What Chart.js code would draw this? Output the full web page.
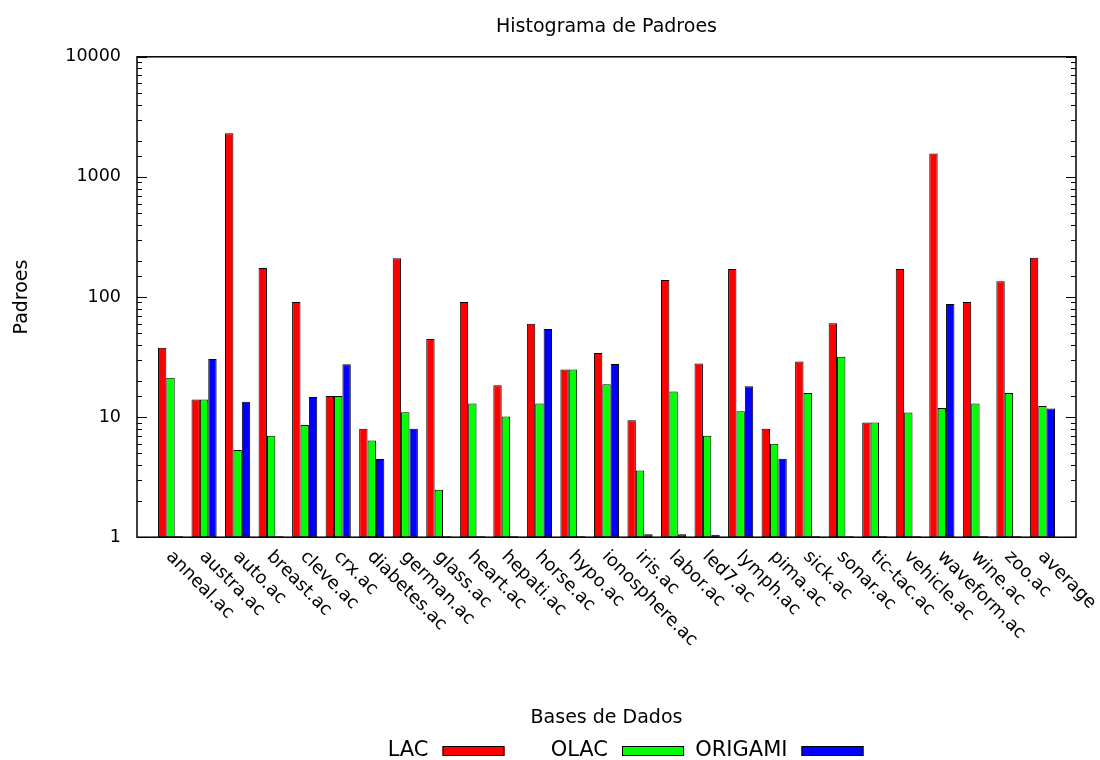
<!DOCTYPE html>
<html>
<head>
<meta charset="utf-8">
<script src="https://cdn.jsdelivr.net/npm/chart.js@4.4.1/dist/chart.umd.min.js"></script>
<style>
  html, body { margin: 0; padding: 0; background: #fff; }
  #c { display: block; }
</style>
</head>
<body>
<canvas id="c" width="1100" height="760"></canvas>
<script>
// ---- data ----
const categories = ['anneal.ac','austra.ac','auto.ac','breast.ac','cleve.ac','crx.ac','diabetes.ac','german.ac','glass.ac','heart.ac','hepati.ac','horse.ac','hypo.ac','ionosphere.ac','iris.ac','labor.ac','led7.ac','lymph.ac','pima.ac','sick.ac','sonar.ac','tic-tac.ac','vehicle.ac','waveform.ac','wine.ac','zoo.ac','average'];
const lac     = [37.8, 14.0, 2313, 174.5, 90.8, 15.0, 8.0, 210, 44.7, 90.8, 18.4, 59.9, 24.9, 34.1, 9.4, 138.6, 28.0, 171, 8.0, 29.1, 60.4, 9.0, 171, 1564, 90.8, 135, 212.6];
const olac    = [21.3, 14.0, 5.31, 6.98, 8.58, 15.0, 6.4, 11.0, 2.48, 13.0, 10.1, 13.0, 24.9, 18.8, 3.6, 16.3, 6.98, 11.2, 6.0, 15.9, 31.8, 9.0, 10.9, 11.9, 13.0, 15.9, 12.4];
const origami = [1.02, 30.4, 13.4, 1.02, 14.7, 27.5, 4.47, 8.0, 1.02, 1.02, 1.02, 54.1, 1.02, 27.7, 1.06, 1.06, 1.05, 18.1, 4.5, 1.02, 1.02, 1.02, 1.02, 87.4, 1.02, 1.02, 11.8];
const seriesNames = ['LAC', 'OLAC', 'ORIGAMI'];
const yTickValues = [1, 10, 100, 1000, 10000];
const chartTitle = 'Histograma de Padroes';
const xTitle = 'Bases de Dados';
const yTitle = 'Padroes';

// ---- build (one empty slot on each side, like the gnuplot x range) ----
const pad = arr => [null, ...arr, null];
const labels = ['', ...categories, ''];
const FONT = "'DejaVu Sans', sans-serif";
const colors = ['#ff0000', '#00ff00', '#0000ff'];

const decorations = {
  id: 'decorations',
  afterDraw(chart) {
    const { ctx, chartArea: a, scales: { x, y } } = chart;
    ctx.save();
    // inward tick marks (left and mirrored right)
    ctx.strokeStyle = '#000';
    ctx.lineWidth = 1;
    y.ticks.forEach(t => {
      const l = Math.log10(t.value);
      const major = Math.abs(l - Math.round(l)) < 1e-9;
      const len = major ? 10 : 5;
      const py = Math.round(y.getPixelForValue(t.value)) + 0.5;
      ctx.beginPath();
      ctx.moveTo(a.left, py); ctx.lineTo(a.left + len, py);
      ctx.moveTo(a.right, py); ctx.lineTo(a.right - len, py);
      ctx.stroke();
    });
    // frame
    ctx.lineWidth = 1.5;
    ctx.strokeRect(a.left, a.top, a.right - a.left, a.bottom - a.top);

    // rotated category labels (text starts at the tick and runs down-right)
    ctx.fillStyle = '#000';
    ctx.font = '18px ' + FONT;
    ctx.textAlign = 'left';
    ctx.textBaseline = 'alphabetic';
    categories.forEach((c, i) => {
      const px = x.getPixelForValue(i + 1);
      ctx.save();
      ctx.translate(px - 5, a.bottom + 20);
      ctx.rotate(Math.PI / 4);
      ctx.fillText(c, 0, 0);
      ctx.restore();
    });

    // legend: label then sample box
    ctx.font = '21px ' + FONT;
    ctx.textBaseline = 'middle';
    const cx = (a.left + a.right) / 2;
    chart.data.datasets.forEach((ds, i) => {
      const right = cx - 178 + i * 179.5;
      ctx.fillStyle = '#000';
      ctx.textAlign = 'right';
      ctx.fillText(ds.label, right, 751);
      ctx.fillStyle = ds.backgroundColor;
      ctx.fillRect(right + 14, 746, 62, 10);
      ctx.lineWidth = 1;
      ctx.strokeStyle = '#000';
      ctx.strokeRect(right + 14.5, 746.5, 61, 9);
    });
    ctx.restore();
  }
};

new Chart(document.getElementById('c'), {
  type: 'bar',
  data: {
    labels,
    datasets: [lac, olac, origami].map((d, i) => ({
      label: seriesNames[i],
      data: pad(d),
      backgroundColor: colors[i],
      borderColor: '#000',
      borderWidth: 1,
      borderSkipped: false,
      categoryPercentage: 0.75,
      barPercentage: 1.0
    }))
  },
  options: {
    responsive: false,
    animation: false,
    devicePixelRatio: 1,
    layout: { padding: { left: 0, right: 24, top: 0, bottom: 30 } },
    plugins: {
      legend: { display: false },
      tooltip: { enabled: false },
      title: {
        display: true, text: chartTitle, fullSize: false, color: '#000',
        font: { family: FONT, size: 19, weight: 'normal' },
        padding: { top: 16, bottom: 18 }
      }
    },
    scales: {
      x: {
        type: 'category', offset: false,
        grid: { display: false }, border: { display: false },
        ticks: { display: false },
        title: {
          display: true, text: xTitle, color: '#000',
          font: { family: FONT, size: 19 }, padding: { top: 161, bottom: 1 }
        }
      },
      y: {
        type: 'logarithmic', min: 1, max: 10000,
        grid: { display: false }, border: { display: false },
        ticks: {
          autoSkip: false, padding: 8, color: '#000',
          font: { family: FONT, size: 17.5 },
          callback: v => yTickValues.includes(v) ? String(v) : ''
        },
        title: {
          display: true, text: yTitle, color: '#000',
          font: { family: FONT, size: 19 }, padding: { top: 11, bottom: 0 }
        },
        afterFit: s => { s.width = 137; }
      }
    }
  },
  plugins: [decorations]
});
</script>
</body>
</html>
